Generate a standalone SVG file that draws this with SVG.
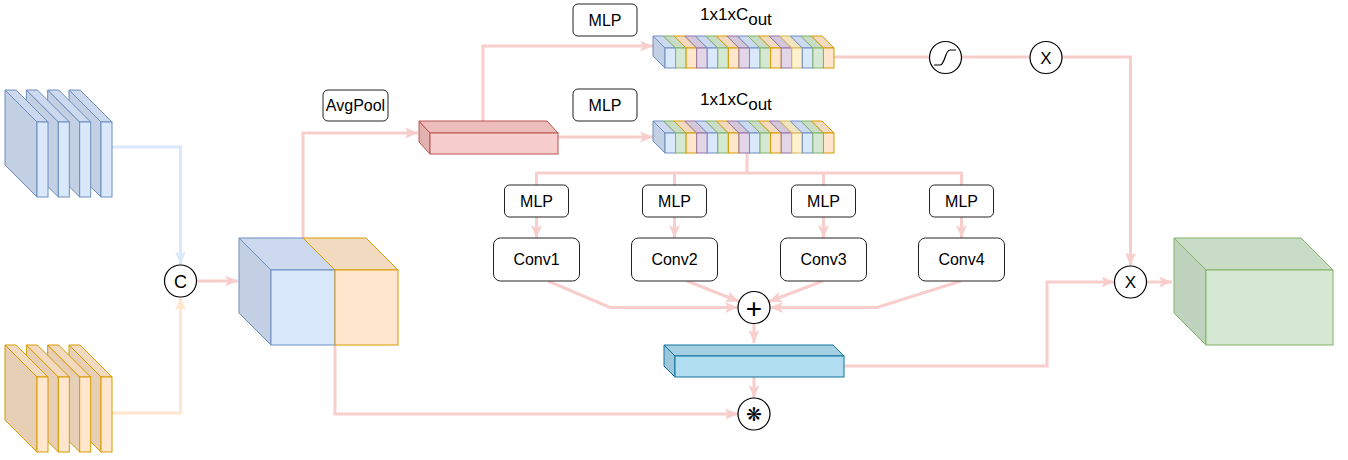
<svg xmlns="http://www.w3.org/2000/svg" width="1348" height="460" viewBox="0 0 1348 460">
<style>
.lbl{font-family:"Liberation Sans",Arial,sans-serif;font-size:16px;fill:#000;text-anchor:middle}
.dim{font-family:"Liberation Sans",Arial,sans-serif;font-size:17px;fill:#000}
.box{fill:#fff;stroke:#222;stroke-width:1}
.circ{fill:#fff;stroke:#000;stroke-width:1.2}
.con{fill:none;stroke:#f8cecc;stroke-width:3}
.conA{fill:none;stroke:#f8cecc;stroke-width:3;marker-end:url(#aR)}
.bF{fill:#dae8fc;stroke:#6c8ebf}.bT{fill:#ccd9ef;stroke:#6c8ebf}.bL{fill:#c3cfe3;stroke:#6c8ebf}
.oF{fill:#ffe6cc;stroke:#d79b00}.oT{fill:#f2dac0;stroke:#d79b00}.oL{fill:#e6cfb5;stroke:#d79b00}
.gF{fill:#d5e8d4;stroke:#82b366}.gT{fill:#c8dcc6;stroke:#82b366}.gL{fill:#bfd2be;stroke:#82b366}
.pF{fill:#e1d5e7;stroke:#9673a6}.pT{fill:#d4c7da;stroke:#9673a6}
.yF{fill:#fff2cc;stroke:#d6b656}.yT{fill:#f1e4bf;stroke:#d6b656}
.rF{fill:#f8cecc;stroke:#b85450}.rT{fill:#ecbdbb;stroke:#b85450}.rL{fill:#e2b2b0;stroke:#b85450}
.cF{fill:#b1ddf0;stroke:#10739e}.cT{fill:#a5cfe2;stroke:#10739e}.cL{fill:#9cc6d9;stroke:#10739e}
</style>
<defs>
<marker id="aR" markerUnits="userSpaceOnUse" markerWidth="13" markerHeight="11" refX="13" refY="5.5" orient="auto" viewBox="0 0 13 11"><path d="M0,0 L13,5.5 L0,11 L3,5.5 z" fill="#f8cecc"/></marker>
<marker id="aB" markerUnits="userSpaceOnUse" markerWidth="13" markerHeight="11" refX="13" refY="5.5" orient="auto" viewBox="0 0 13 11"><path d="M0,0 L13,5.5 L0,11 L3,5.5 z" fill="#dae8fc"/></marker>
<marker id="aO" markerUnits="userSpaceOnUse" markerWidth="13" markerHeight="11" refX="13" refY="5.5" orient="auto" viewBox="0 0 13 11"><path d="M0,0 L13,5.5 L0,11 L3,5.5 z" fill="#ffe6cc"/></marker>
<g id="slabB">
<polygon class="bL" points="0,0 32,32 32,107 0,75"/>
<polygon class="bT" points="0,0 11,0 43,32 32,32"/>
<rect class="bF" x="32" y="32" width="11" height="75"/>
</g>
<g id="slabO">
<polygon class="oL" points="0,0 32,32 32,107 0,75"/>
<polygon class="oT" points="0,0 11,0 43,32 32,32"/>
<rect class="oF" x="32" y="32" width="11" height="75"/>
</g>
<g id="cbar">
<polygon class="bL" points="653,36 665,48 665,68 653,56"/>
<polygon class="bT" points="665,48 675.56,48 663.56,36 653,36"/><rect class="bF" x="665" y="48" width="10.56" height="20"/>
<polygon class="gT" points="675.56,48 686.13,48 674.13,36 663.56,36"/><rect class="gF" x="675.56" y="48" width="10.56" height="20"/>
<polygon class="oT" points="686.13,48 696.69,48 684.69,36 674.13,36"/><rect class="oF" x="686.13" y="48" width="10.56" height="20"/>
<polygon class="pT" points="696.69,48 707.25,48 695.25,36 684.69,36"/><rect class="pF" x="696.69" y="48" width="10.56" height="20"/>
<polygon class="bT" points="707.25,48 717.81,48 705.81,36 695.25,36"/><rect class="bF" x="707.25" y="48" width="10.56" height="20"/>
<polygon class="gT" points="717.81,48 728.38,48 716.38,36 705.81,36"/><rect class="gF" x="717.81" y="48" width="10.56" height="20"/>
<polygon class="oT" points="728.38,48 738.94,48 726.94,36 716.38,36"/><rect class="oF" x="728.38" y="48" width="10.56" height="20"/>
<polygon class="pT" points="738.94,48 749.5,48 737.5,36 726.94,36"/><rect class="pF" x="738.94" y="48" width="10.56" height="20"/>
<polygon class="bT" points="749.5,48 760.06,48 748.06,36 737.5,36"/><rect class="bF" x="749.5" y="48" width="10.56" height="20"/>
<polygon class="gT" points="760.06,48 770.63,48 758.63,36 748.06,36"/><rect class="gF" x="760.06" y="48" width="10.56" height="20"/>
<polygon class="oT" points="770.63,48 781.19,48 769.19,36 758.63,36"/><rect class="oF" x="770.63" y="48" width="10.56" height="20"/>
<polygon class="pT" points="781.19,48 791.75,48 779.75,36 769.19,36"/><rect class="pF" x="781.19" y="48" width="10.56" height="20"/>
<polygon class="yT" points="791.75,48 802.31,48 790.31,36 779.75,36"/><rect class="yF" x="791.75" y="48" width="10.56" height="20"/>
<polygon class="bT" points="802.31,48 812.88,48 800.88,36 790.31,36"/><rect class="bF" x="802.31" y="48" width="10.56" height="20"/>
<polygon class="gT" points="812.88,48 823.44,48 811.44,36 800.88,36"/><rect class="gF" x="812.88" y="48" width="10.56" height="20"/>
<polygon class="oT" points="823.44,48 834,48 822,36 811.44,36"/><rect class="oF" x="823.44" y="48" width="10.56" height="20"/>
</g>
</defs>

<g id="connectors">
<path d="M112,147 H180.5 V264.5" fill="none" stroke="#dae8fc" stroke-width="3" marker-end="url(#aB)"/>
<path d="M112,413 H180.5 V297.5" fill="none" stroke="#ffe6cc" stroke-width="3" marker-end="url(#aO)"/>
<path class="conA" d="M197,281 H238"/>
<path class="conA" d="M303,238 V133 H418"/>
<path class="conA" d="M483,121 V46 H653"/>
<path class="conA" d="M558,137 H653"/>
<path class="con" d="M834,57 H929"/>
<path class="con" d="M962,57 H1030"/>
<path class="conA" d="M1062,57 H1130.5 V265.5"/>
<path class="con" d="M747,153 V173 M536.5,173 H961.5 M536.5,172 V185 M674.5,173 V185 M823.5,173 V185 M961.5,172 V185"/>
<path class="conA" d="M536.5,217 V238"/>
<path class="conA" d="M674.5,217 V238"/>
<path class="conA" d="M823.5,217 V238"/>
<path class="conA" d="M961.5,217 V238"/>
<path class="conA" d="M548,281 L610,307.5 H738"/>
<path class="conA" d="M687,281 L739,301.5"/>
<path class="conA" d="M823,281 L769,301.5"/>
<path class="conA" d="M961,281 L877,307.5 H770"/>
<path class="conA" d="M754,323.5 V343"/>
<path class="conA" d="M754,377 V398"/>
<path class="conA" d="M335,345 V414 H738"/>
<path class="conA" d="M844,366 H1047 V282 H1114.5"/>
<path class="conA" d="M1146.5,282 H1172"/>
</g>

<g id="stack-blue">
<use href="#slabB" transform="translate(69,90)"/>
<use href="#slabB" transform="translate(47.67,90)"/>
<use href="#slabB" transform="translate(26.33,90)"/>
<use href="#slabB" transform="translate(5,90)"/>
</g>
<g id="stack-orange">
<use href="#slabO" transform="translate(69,345)"/>
<use href="#slabO" transform="translate(47.67,345)"/>
<use href="#slabO" transform="translate(26.33,345)"/>
<use href="#slabO" transform="translate(5,345)"/>
</g>

<g id="concat">
<circle class="circ" cx="180.5" cy="281" r="16"/>
<text class="lbl" x="180.5" y="287.5" style="font-size:18px">C</text>
</g>

<g id="cube">
<polygon class="bL" points="239,238 271,270 271,345 239,313"/>
<polygon class="bT" points="239,238 303,238 335,270 271,270"/>
<rect class="bF" x="271" y="270" width="64" height="75"/>
<polygon class="oT" points="303,238 366,238 398,270 335,270"/>
<rect class="oF" x="335" y="270" width="63" height="75"/>
</g>

<g id="avgpool">
<rect class="box" x="323" y="90" width="65" height="31" rx="5"/>
<text class="lbl" x="355.5" y="111">AvgPool</text>
</g>

<g id="pooled">
<polygon class="rL" points="419,121 430,133 430,154 419,142"/>
<polygon class="rT" points="419,121 547,121 558,133 430,133"/>
<rect class="rF" x="430" y="133" width="128" height="21"/>
</g>

<g id="mlp-top">
<rect class="box" x="573" y="4" width="64" height="32" rx="5"/>
<text class="lbl" x="605" y="25.5">MLP</text>
</g>
<g id="mlp-mid">
<rect class="box" x="573" y="89" width="64" height="32" rx="5"/>
<text class="lbl" x="605" y="110.5">MLP</text>
</g>

<g id="bar-top">
<use href="#cbar"/>
<text class="dim" x="700" y="20">1x1xC<tspan dy="5">out</tspan></text>
</g>
<g id="bar-mid">
<use href="#cbar" transform="translate(0,85)"/>
<text class="dim" x="700" y="105">1x1xC<tspan dy="5">out</tspan></text>
</g>

<g id="sigmoid">
<circle class="circ" cx="945.5" cy="57.5" r="16"/>
<path d="M934,65 H940 C945,65 945,50 950,50 H956" fill="none" stroke="#000" stroke-width="1.2"/>
</g>
<g id="mul-top">
<circle class="circ" cx="1046" cy="57.5" r="16"/>
<text class="lbl" x="1046" y="63.5" style="font-size:17px">X</text>
</g>

<g id="mlp1"><rect class="box" x="504.5" y="185" width="64" height="32" rx="5"/><text class="lbl" x="536.5" y="206.5">MLP</text></g>
<g id="mlp2"><rect class="box" x="642.5" y="185" width="64" height="32" rx="5"/><text class="lbl" x="674.5" y="206.5">MLP</text></g>
<g id="mlp3"><rect class="box" x="791.5" y="185" width="64" height="32" rx="5"/><text class="lbl" x="823.5" y="206.5">MLP</text></g>
<g id="mlp4"><rect class="box" x="929.5" y="185" width="64" height="32" rx="5"/><text class="lbl" x="961.5" y="206.5">MLP</text></g>

<g id="conv1"><rect class="box" x="493.5" y="238" width="86" height="43" rx="7"/><text class="lbl" x="536.5" y="265">Conv1</text></g>
<g id="conv2"><rect class="box" x="631.5" y="238" width="86" height="43" rx="7"/><text class="lbl" x="674.5" y="265">Conv2</text></g>
<g id="conv3"><rect class="box" x="780.5" y="238" width="86" height="43" rx="7"/><text class="lbl" x="823.5" y="265">Conv3</text></g>
<g id="conv4"><rect class="box" x="918.5" y="238" width="86" height="43" rx="7"/><text class="lbl" x="961.5" y="265">Conv4</text></g>

<g id="sum">
<circle class="circ" cx="754" cy="307.5" r="16"/>
<text class="lbl" x="754" y="317.5" style="font-size:28px">+</text>
</g>

<g id="fused">
<polygon class="cL" points="664,345 675,356 675,377 664,366"/>
<polygon class="cT" points="664,345 833,345 844,356 675,356"/>
<rect class="cF" x="675" y="356" width="169" height="21"/>
</g>

<g id="conv-op">
<circle class="circ" cx="754" cy="414" r="16"/>
<text x="754" y="421" style="font-family:'DejaVu Sans',sans-serif;font-size:19px;text-anchor:middle">❋</text>
</g>

<g id="mul-right">
<circle class="circ" cx="1130.5" cy="282" r="16"/>
<text class="lbl" x="1130.5" y="288" style="font-size:17px">X</text>
</g>

<g id="output">
<polygon class="gL" points="1174,238 1206,270 1206,345 1174,313"/>
<polygon class="gT" points="1174,238 1301,238 1333,270 1206,270"/>
<rect class="gF" x="1206" y="270" width="127" height="75"/>
</g>
</svg>
